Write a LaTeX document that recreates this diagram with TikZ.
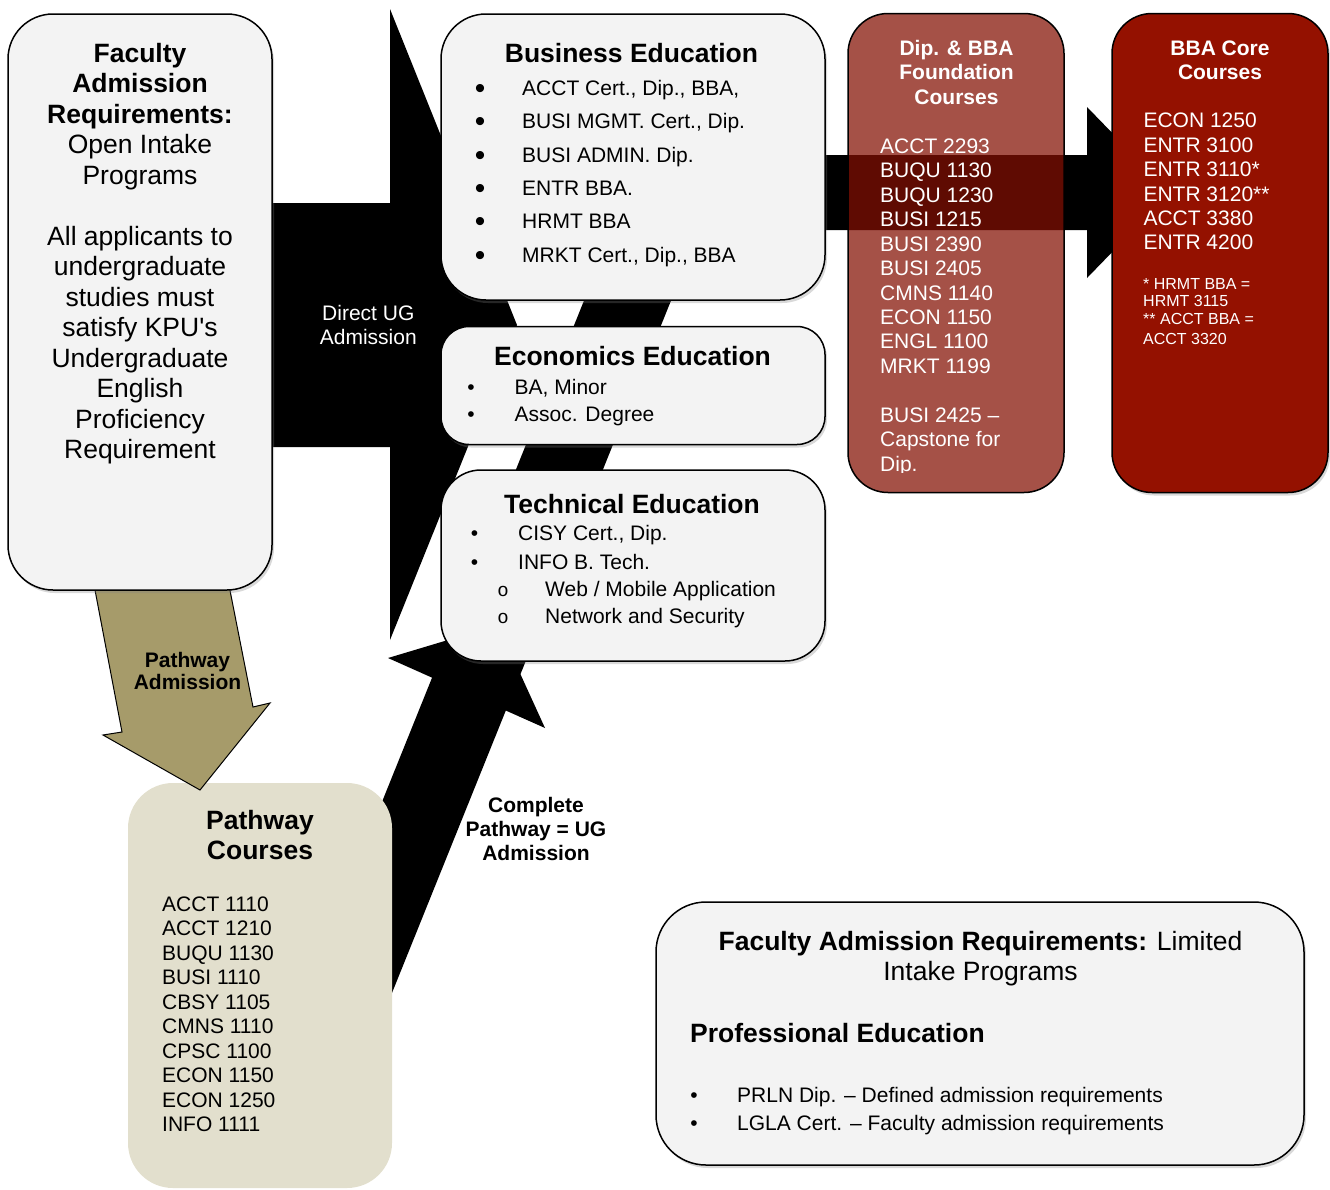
\documentclass[tikz,border=0pt]{standalone}
\usepackage{fontspec}
\newfontfamily\af{Liberation Sans}
\newfontfamily\mf{Liberation Mono}
\usetikzlibrary{shadows}
\definecolor{boxgray}{RGB}{243,243,243}
\definecolor{beige}{RGB}{226,223,205}
\definecolor{olivefill}{RGB}{166,155,106}
\definecolor{bbared}{RGB}{148,17,0}
\definecolor{fndred}{RGB}{131,16,3}
\tikzset{
  boxbase/.style={draw=black, line width=1.5pt, inner sep=0pt, fill=boxgray},
  shd/.style={drop shadow={shadow xshift=2pt, shadow yshift=-3pt, opacity=0.3}},
  itm/.style={inner sep=0pt, anchor=base west, font=\af\fontsize{21}{25}\selectfont},
  itmc/.style={inner sep=0pt, anchor=base, font=\af\fontsize{21}{25}\selectfont},
  bitmc/.style={inner sep=0pt, anchor=base, font=\af\bfseries\fontsize{21}{25}\selectfont},
  ttl/.style={inner sep=0pt, anchor=base, font=\af\bfseries\fontsize{26.5}{31}\selectfont},
  ttlw/.style={inner sep=0pt, anchor=base west, font=\af\bfseries\fontsize{26.5}{31}\selectfont},
  bigc/.style={inner sep=0pt, anchor=base, font=\af\fontsize{26.5}{31}\selectfont},
  bul/.style={inner sep=0pt, anchor=base, font=\af\fontsize{21}{25}\selectfont},
  bigbul/.style={inner sep=0pt, anchor=base, font=\af\fontsize{30}{32}\selectfont},
  subbul/.style={inner sep=0pt, anchor=base, font=\mf\fontsize{19}{25}\selectfont},
  sml/.style={inner sep=0pt, anchor=base west, font=\af\fontsize{16}{18}\selectfont},
  blk/.style={fill=black, draw=none},
}
\begin{document}
\begin{tikzpicture}[x=1pt,y=-1pt]
\useasboundingbox (0,0) rectangle (1330,1189);

% ---------- black block arrows (behind boxes) ----------
% Direct UG admission arrow
\fill[blk] (200,203) -- (390,203) -- (390,9) -- (517,325) -- (390,640) -- (390,447) -- (200,447) -- cycle;
% Complete pathway long shaft
\fill[blk] (282,1050) -- (644.7,150) -- (731.7,150) -- (369,1050) -- cycle;
% Complete pathway head towards Technical Education
\fill[blk] (388,658) -- (498,625) -- (545,728) -- cycle;
% Business -> BBA core arrow
\fill[blk] (800,155) -- (1087,155) -- (1087,107) -- (1170,192.5) -- (1087,278) -- (1087,230) -- (800,230) -- cycle;

% ---------- Pathway courses box ----------
\node[inner sep=0pt, fill=beige, draw=none, rounded corners=45pt,
      minimum width=264pt, minimum height=405pt] (pathbox) at (260,985.5) {};

% Pathway admission arrow
\draw[fill=olivefill, draw=black, line width=1pt, line join=miter]
  (89.3,560) -- (122,732) -- (103,735) -- (200,790) -- (270,703) -- (253,707) -- (224,560) -- cycle;

% ---------- boxes ----------
\node[boxbase, shd, rounded corners=45pt, minimum width=264pt, minimum height=576pt] (leftbox) at (140,302) {};
\node[boxbase, shd, rounded corners=45pt, minimum width=384pt, minimum height=286pt] (busbox) at (633,157) {};
\node[boxbase, shd, rounded corners=28pt, minimum width=384pt, minimum height=118pt] (econbox) at (633,385.5) {};
\node[boxbase, shd, rounded corners=40pt, minimum width=384pt, minimum height=191pt] (techbox) at (633,565.5) {};
\node[draw=black, line width=1.5pt, inner sep=0pt, fill=fndred, fill opacity=0.73,
      rounded corners=40pt, minimum width=216pt, minimum height=479pt] (fndbox) at (956,253) {};
\node[draw=black, line width=1.5pt, inner sep=0pt, fill=bbared, shd,
      rounded corners=40pt, minimum width=216pt, minimum height=479pt] (bbabox) at (1220,253) {};
\node[boxbase, shd, rounded corners=50pt, minimum width=648pt, minimum height=263pt] (limbox) at (980,1033.5) {};

% ---------- left box text ----------
\node[ttl] (l1) at (140,62) {Faculty};
\node[ttl] (l2) at (140,92.5) {Admission};
\node[ttl] (l3) at (140,123) {Requirements:};
\node[bigc] (l4) at (140,153.5) {Open Intake};
\node[bigc] (l5) at (140,184) {Programs};
\node[bigc] (l6) at (140,245) {All applicants to};
\node[bigc] (l7) at (140,275.5) {undergraduate};
\node[bigc] (l8) at (140,306) {studies must};
\node[bigc] (l9) at (140,336.5) {satisfy KPU's};
\node[bigc] (l10) at (140,367) {Undergraduate};
\node[bigc] (l11) at (140,397.5) {English};
\node[bigc] (l12) at (140,428) {Proficiency};
\node[bigc] (l13) at (140,458.5) {Requirement};

% ---------- Business Education ----------
\node[ttl] (bt) at (631.5,62) {Business Education};
\foreach \yy/\tx [count=\i] in {95/{ACCT Cert., Dip., BBA,}, 128.5/{BUSI MGMT. Cert., Dip.}, 162/{BUSI ADMIN. Dip.}, 195/{ENTR BBA.}, 228.5/{HRMT BBA}, 262/{MRKT Cert., Dip., BBA}}{
  \node[bigbul] (bb\i) at (480,\yy+3) {•};
  \node[itm] (bi\i) at (522,\yy) {\tx};
}

% ---------- Economics Education ----------
\node[ttl] (et) at (632.5,365.5) {Economics Education};
\node[bul] (eb1) at (471,394) {•};
\node[itm] (ei1) at (514.5,394) {BA, Minor};
\node[bul] (eb2) at (471,421) {•};
\node[itm] (ei2) at (514.5,421) {Assoc. Degree};

% ---------- Technical Education ----------
\node[ttl] (tt) at (632,513.5) {Technical Education};
\node[bul] (tb1) at (474.5,540) {•};
\node[itm] (ti1) at (518,540) {CISY Cert., Dip.};
\node[bul] (tb2) at (474.5,569) {•};
\node[itm] (ti2) at (518,569) {INFO B. Tech.};
\node[subbul] (ts1) at (503,596) {o};
\node[itm] (tsi1) at (545,596) {Web / Mobile Application};
\node[subbul] (ts2) at (503,623) {o};
\node[itm] (tsi2) at (545,623) {Network and Security};

% ---------- Foundation courses ----------
\begin{scope}[every node/.append style={text=white}]
\node[bitmc] (ft1) at (956.5,55) {Dip. \& BBA};
\node[bitmc] (ft2) at (956.5,79.3) {Foundation};
\node[bitmc] (ft3) at (956.5,104) {Courses};
\foreach \tx [count=\i from 0] in {ACCT 2293, BUQU 1130, BUQU 1230, BUSI 1215, BUSI 2390, BUSI 2405, CMNS 1140, ECON 1150, ENGL 1100, MRKT 1199}{
  \node[itm] (fi\i) at (880,153.3+24.45*\i) {\tx};
}
\node[itm] (fc1) at (880,422.3) {BUSI 2425 –};
\node[itm] (fc2) at (880,446.7) {Capstone for};
\begin{scope}
\clip (849,440) rectangle (1064,472);
\node[itm] (fc3) at (880,471.2) {Dip.};
\end{scope}

% ---------- BBA core ----------
\node[bitmc] (ct1) at (1220,55) {BBA Core};
\node[bitmc] (ct2) at (1220,79.3) {Courses};
\foreach \tx [count=\i from 0] in {ECON 1250, ENTR 3100, ENTR 3110*, ENTR 3120**, ACCT 3380, ENTR 4200}{
  \node[itm] (ci\i) at (1143.3,127.7+24.45*\i) {\tx};
}
\node[sml] (cn1) at (1143,289.7) {* HRMT BBA =};
\node[sml] (cn2) at (1143,306.7) {HRMT 3115};
\node[sml] (cn3) at (1143,324.7) {** ACCT BBA =};
\node[sml] (cn4) at (1143,344.7) {ACCT 3320};
\end{scope}

% ---------- Pathway courses ----------
\node[ttl] (pt1) at (260,829.5) {Pathway};
\node[ttl] (pt2) at (260,859.5) {Courses};
\foreach \tx [count=\i from 0] in {ACCT 1110, ACCT 1210, BUQU 1130, BUSI 1110, CBSY 1105, CMNS 1110, CPSC 1100, ECON 1150, ECON 1250, INFO 1111}{
  \node[itm] (pi\i) at (162,911.5+24.45*\i) {\tx};
}

% ---------- arrow labels ----------
\node[bitmc] (pa1) at (187.5,667.3) {Pathway};
\node[bitmc] (pa2) at (187.5,689.5) {Admission};
\node[bitmc] (cp1) at (536,812) {Complete};
\node[bitmc] (cp2) at (536,836) {Pathway = UG};
\node[bitmc] (cp3) at (536,860) {Admission};
\node[itmc, text=white] (du1) at (368.3,320.7) {Direct UG};
\node[itmc, text=white] (du2) at (368.3,344) {Admission};

% ---------- Limited intake box ----------
\node[bigc] (lm1) at (980.5,950.5) {{\bfseries Faculty Admission Requirements:} Limited};
\node[bigc] (lm2) at (980.5,980.5) {Intake Programs};
\node[ttlw] (lm3) at (690,1042.5) {Professional Education};
\node[bul] (lb1) at (694,1102) {•};
\node[itm] (li1) at (737,1102) {PRLN Dip. – Defined admission requirements};
\node[bul] (lb2) at (694,1130) {•};
\node[itm] (li2) at (737,1130) {LGLA Cert. – Faculty admission requirements};
\end{tikzpicture}
\end{document}
